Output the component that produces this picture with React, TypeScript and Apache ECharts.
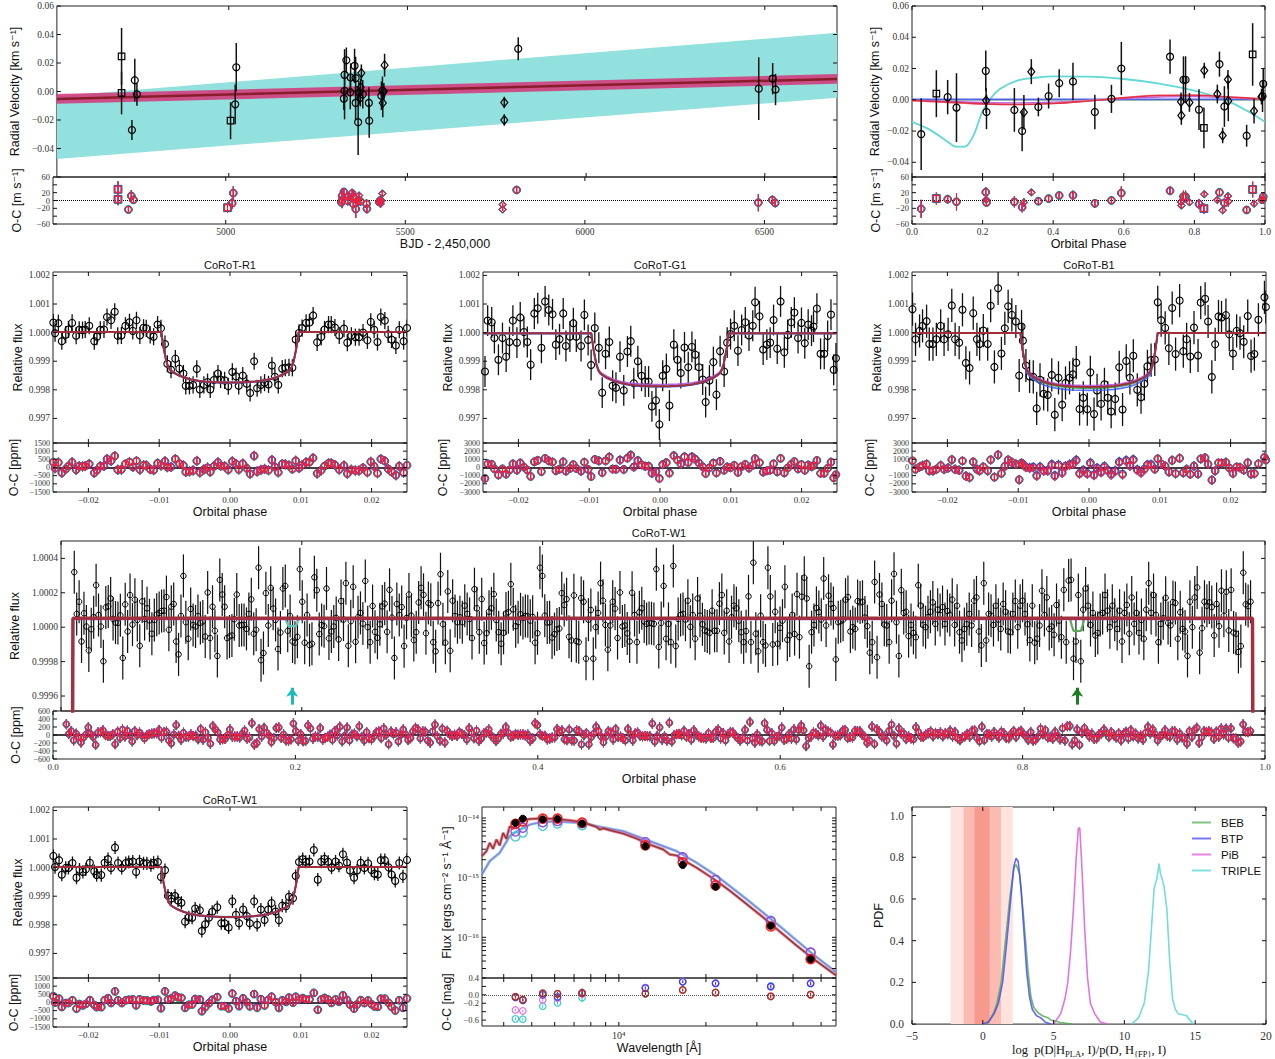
import React, { useEffect, useRef } from "react";
import * as echarts from "echarts";

const SERIF = "'Liberation Serif', 'DejaVu Serif', serif";
const SANS = "'Liberation Sans', 'DejaVu Sans', Arial, sans-serif";

// ---------------- RV versus time ----------------
const RV_T = [4700, 4700, 4737, 4743, 4729, 5005, 5018, 5021, 5329, 5324, 5324, 5322, 5341, 5340, 5352, 5355, 5355, 5362, 5371, 5369, 5364, 5368, 5375, 5392, 5393, 5436, 5434, 5430, 5427, 5431, 5771, 5771, 5810, 6483, 6522, 6530];
const RV_V = [0.0246, -0.001, 0.0079, -0.002, -0.027, -0.0205, -0.009, 0.017, 0.0219, 0.0117, 0.0005, -0.005, 0.0098, -0.0005, 0.018, 0.0094, -0.008, -0.0215, 0.013, 0.003, -0.0007, -0.0045, -0.002, -0.008, -0.0205, 0.0185, 0.0, 0.0005, -0.003, -0.008, -0.0077, -0.02, 0.03, 0.002, 0.009, 0.0014];
const RV_E = [0.02, 0.015, 0.015, 0.008, 0.007, 0.013, 0.014, 0.017, 0.009, 0.018, 0.02, 0.008, 0.01, 0.012, 0.012, 0.015, 0.012, 0.023, 0.006, 0.006, 0.008, 0.006, 0.01, 0.011, 0.012, 0.008, 0.006, 0.01, 0.01, 0.01, 0.004, 0.004, 0.008, 0.022, 0.011, 0.011];
const RV_SYM = ["s", "s", "c", "c", "c", "s", "c", "c", "c", "c", "c", "c", "c", "c", "c", "c", "c", "c", "d", "d", "d", "d", "c", "c", "c", "d", "d", "c", "c", "d", "d", "d", "c", "c", "c", "c"];
const DRIFT_T = [4519, 6702];
const DRIFT_V = [-0.0052, 0.0088];
const RED_BAND_LO = [-0.0086, 0.0054];
const RED_BAND_HI = [-0.0018, 0.0122];
const CYAN_BAND_LO = [-0.0473, -0.0044];
const CYAN_BAND_HI = [-0.0033, 0.0412];
const BJD_TICKS = [5000, 5500, 6000, 6500];
const RV_YT = [-0.06, -0.04, -0.02, 0, 0.02, 0.04, 0.06];
const RV_YL = [-0.04, -0.02, 0, 0.02, 0.04, 0.06];
const RVOC_T = [-60, -40, -20, 0, 20, 40, 60];

// ---------------- RV versus orbital phase ----------------
const PH_P = [0.026, 0.069, 0.101, 0.126, 0.209, 0.21, 0.211, 0.29, 0.312, 0.317, 0.338, 0.358, 0.387, 0.417, 0.456, 0.518, 0.565, 0.593, 0.731, 0.762, 0.763, 0.769, 0.775, 0.786, 0.813, 0.827, 0.828, 0.865, 0.871, 0.88, 0.885, 0.895, 0.896, 0.948, 0.965, 0.969, 0.99, 0.993, 0.995];
const PH_V = [-0.022, 0.0039, 0.0017, -0.005, 0.0185, -0.0004, -0.0078, -0.0065, -0.02, -0.008, 0.018, -0.0046, 0.0024, 0.0106, 0.0117, -0.0078, 0.0006, 0.02, 0.0276, -0.0013, -0.01, 0.0128, 0.0128, -0.0017, -0.0063, -0.018, 0.0187, 0.0037, 0.0228, -0.0228, -0.0043, 0.013, -0.0007, -0.023, 0.029, -0.0072, 0.002, 0.0022, 0.0102];
const PH_E = [0.023, 0.015, 0.011, 0.022, 0.013, 0.008, 0.011, 0.014, 0.013, 0.011, 0.008, 0.006, 0.008, 0.009, 0.012, 0.011, 0.009, 0.017, 0.011, 0.006, 0.006, 0.015, 0.015, 0.006, 0.013, 0.013, 0.005, 0.006, 0.008, 0.005, 0.013, 0.006, 0.013, 0.007, 0.02, 0.008, 0.005, 0.01, 0.01];
const PH_SYM = ["c", "s", "c", "c", "c", "d", "c", "c", "c", "d", "d", "c", "c", "c", "c", "c", "c", "c", "c", "d", "d", "c", "c", "d", "c", "s", "d", "d", "c", "d", "c", "d", "d", "c", "s", "d", "d", "c", "c"];
const PH_CYAN_X = [0, 0.05, 0.1, 0.125, 0.15, 0.175, 0.2, 0.225, 0.25, 0.3, 0.35, 0.4, 0.5, 0.6, 0.7, 0.8, 0.85, 0.9, 0.95, 1.0];
const PH_CYAN_Y = [-0.0141, -0.0191, -0.0267, -0.03, -0.03, -0.0224, -0.0072, 0.0015, 0.007, 0.0124, 0.0141, 0.015, 0.0148, 0.0133, 0.0104, 0.0059, 0.0026, -0.0013, -0.0072, -0.0141];
const PH_MOD_X = [0, 0.1, 0.2, 0.3, 0.4, 0.5, 0.6, 0.7, 0.8, 0.9, 1.0];
const PH_RED = [-0.0004, -0.0015, -0.0026, -0.003, -0.0024, -0.0008, 0.0012, 0.0027, 0.0029, 0.0018, 0.0004];
const PH_PINK = [-0.0006, -0.0018, -0.0028, -0.0031, -0.0022, -0.0005, 0.0015, 0.003, 0.003, 0.0017, 0.0001];
const PH_MAGENTA = [-0.0003, -0.001, -0.0017, -0.002, -0.0016, -0.0006, 0.0008, 0.0018, 0.002, 0.0013, 0.0003];
const PH_FLAT_X = [0, 1];
const PH_BLUE = [0.0004, 0.0004];
const PH_SLATE = [0.0, 0.0];
const PH_XT = [0, 0.2, 0.4, 0.6, 0.8, 1.0];
const PH_YT = [-0.04, -0.02, 0, 0.02, 0.04, 0.06];

// ---------------- Light curves (phase in 1e-5, flux in ppm) ----------------
const R1_X = [-2495, -2471, -2424, -2376, -2320, -2282, -2230, -2173, -2130, -2083, -2045, -1988, -1917, -1879, -1832, -1780, -1737, -1680, -1628, -1586, -1534, -1477, -1420, -1373, -1321, -1273, -1221, -1183, -1127, -1079, -1023, -975, -918, -885, -833, -772, -715, -658, -625, -573, -521, -469, -426, -369, -317, -279, -227, -170, -133, -76, -24, 33, 85, 123, 180, 237, 284, 341, 383, 436, 488, 544, 592, 634, 682, 738, 781, 833, 881, 928, 975, 1018, 1075, 1122, 1174, 1231, 1288, 1335, 1392, 1430, 1482, 1543, 1610, 1657, 1714, 1771, 1823, 1879, 1941, 1988, 2036, 2083, 2130, 2187, 2234, 2282, 2343, 2391, 2452, 2500];
const R1_PPM = [350, -20, 330, -300, -70, 110, 340, -110, 100, 90, 110, 240, -300, -140, 100, 110, 545, 430, 730, -110, -100, 240, 360, 60, 430, -100, 170, 150, -80, -140, 280, 150, -400, -1090, -1300, -910, -1260, -1430, -1860, -1860, -1830, -1270, -1990, -1830, -1730, -1990, -1660, -1430, -1640, -1670, -1875, -1375, -1530, -1860, -1500, -1785, -2110, -1000, -1945, -1830, -1750, -1810, -1150, -1545, -1830, -1260, -1230, -1215, -1230, -240, -10, 160, 340, 350, 600, -340, -150, 110, 280, 280, 180, -100, 140, -350, -110, -160, -160, 0, -270, 375, 100, -330, 545, 420, -60, -240, -450, 100, -300, 160];
const G1_X = [-2472, -2434, -2377, -2339, -2282, -2225, -2173, -2126, -2078, -2021, -1974, -1922, -1874, -1827, -1775, -1727, -1675, -1623, -1571, -1518, -1471, -1419, -1367, -1329, -1272, -1224, -1182, -1115, -1068, -1015, -973, -921, -864, -816, -769, -716, -669, -622, -565, -512, -460, -413, -370, -313, -261, -209, -161, -114, -57, -9, 38, 90, 133, 195, 247, 294, 346, 399, 451, 498, 550, 603, 645, 698, 754, 797, 849, 906, 949, 996, 1049, 1101, 1153, 1205, 1257, 1310, 1343, 1405, 1457, 1509, 1556, 1604, 1656, 1703, 1756, 1803, 1855, 1898, 1950, 1998, 2045, 2093, 2140, 2168, 2216, 2268, 2320, 2368, 2415, 2453, 2485];
const G1_PPM = [-1360, 420, 360, -190, -950, -190, -840, -330, 420, -350, 530, 20, -330, -1120, 670, 850, -530, 1090, 790, 640, -420, -230, 670, -470, -140, 330, -140, -470, 620, -260, -1130, 160, -530, -2100, -740, -330, -1860, -1930, -840, -2020, -660, -300, -1770, -1000, -1510, -1710, -1710, -2580, -2370, -3210, -1510, -1270, -2550, -420, -950, -1410, -520, -1210, -500, -770, -1210, -1640, -2430, -1670, -1030, -2170, -650, -1360, -350, -50, 240, -630, 90, 360, -100, 240, 1060, 570, -590, -420, -350, 440, -560, 1090, -690, -80, 360, 700, -190, 340, -370, 280, 70, 210, 840, -740, -740, -120, 630, -1300, -900];
const B1_X = [-2493, -2450, -2393, -2351, -2294, -2256, -2204, -2156, -2095, -2047, -1990, -1938, -1891, -1834, -1787, -1739, -1687, -1635, -1583, -1545, -1493, -1431, -1389, -1336, -1284, -1237, -1189, -1142, -1090, -1033, -986, -953, -934, -891, -839, -787, -739, -692, -640, -583, -526, -483, -431, -379, -332, -275, -227, -180, -133, -81, -24, 19, 71, 114, 171, 218, 265, 313, 370, 427, 474, 526, 578, 626, 682, 735, 782, 825, 877, 929, 971, 1019, 1076, 1128, 1175, 1223, 1280, 1332, 1379, 1431, 1483, 1540, 1578, 1640, 1682, 1735, 1782, 1829, 1872, 1934, 1981, 2033, 2085, 2133, 2185, 2242, 2289, 2336, 2393, 2478, 2498];
const B1_PPM = [820, -235, 60, 235, 400, -400, -400, -235, 235, -235, -60, 950, -235, -350, 800, -1060, -1235, 680, -235, -400, 70, -400, 940, -1200, 1550, -730, 150, 920, 620, 390, -1500, 210, -280, -1150, -1530, -1550, -2650, -1650, -2140, -2180, -1480, -2870, -1580, -2520, -1760, -1580, -1460, -1050, -2670, -2280, -2680, -1390, -2850, -2020, -2490, -1810, -2280, -2760, -2320, -1210, -2690, -990, -1580, -810, -2000, -2260, -1790, -1180, -960, -940, 1060, 435, 165, -550, 860, -750, 1120, -650, -235, -835, 175, -800, 1050, 1180, 390, -1550, -410, 565, 530, 610, -60, -730, 60, -20, -320, 580, -820, -750, 450, 1235, 895];
const W1S_X = [-2495, -2471, -2414, -2376, -2320, -2282, -2225, -2168, -2126, -2078, -2036, -1979, -1917, -1884, -1818, -1771, -1723, -1681, -1624, -1581, -1529, -1472, -1430, -1373, -1326, -1278, -1221, -1174, -1117, -1079, -1018, -975, -918, -876, -828, -776, -734, -686, -634, -582, -535, -492, -426, -398, -350, -298, -251, -180, -123, -76, -19, 33, 85, 128, 185, 237, 279, 341, 383, 436, 488, 540, 587, 644, 691, 738, 791, 833, 890, 928, 975, 1027, 1070, 1122, 1184, 1240, 1288, 1335, 1387, 1434, 1491, 1539, 1595, 1652, 1695, 1752, 1794, 1846, 1898, 1950, 1998, 2040, 2088, 2130, 2187, 2239, 2282, 2334, 2391, 2443, 2500];
const W1S_PPM = [410, 20, 260, -250, -10, -10, 160, -350, -70, -150, -60, 170, -125, -260, -260, 170, 295, -10, 705, 160, -10, 160, 195, 215, -150, 215, 150, 150, 90, 170, 195, -330, -90, -980, -1080, -990, -1150, -1230, -1890, -1740, -1750, -1430, -1490, -2215, -1980, -1750, -1545, -1385, -1945, -1945, -2090, -1180, -1650, -1945, -1465, -1695, -1945, -1180, -2000, -1465, -1830, -1465, -1240, -1535, -1840, -1330, -1350, -1020, -1070, -295, 195, 295, 205, 215, 615, -420, 205, 305, 205, 0, 215, 70, 465, 180, -100, -350, -100, 170, -10, 150, -80, -215, -240, 260, 260, 10, -240, -465, 160, -305, 270];
const R1_ERR = 300, G1_ERR = 540, B1_ERR = 580, W1S_ERR = 230;

// transit profile (fraction of depth versus |phase|)
const TR_X = [0, 0.0012, 0.0025, 0.0035, 0.0045, 0.0055, 0.0065, 0.0075, 0.008, 0.0084, 0.0087, 0.009, 0.0094, 0.0097, 0.025];
const TR_S = [1, 0.998, 0.992, 0.982, 0.965, 0.94, 0.9, 0.84, 0.8, 0.76, 0.7, 0.58, 0.3, 0, 0];
// models: TRIPLE, BEB, BTP, PiB, PLA (ppm)
const MODEL_LINE = ["#48d1cc", "#2e9e3e", "#3f5bff", "#b44fe0", "#a12d3d"];
const MODEL_OC = ["#22c4c4", "#178a17", "#1c3cff", "#c23cc2", "#ff1a1a"];
const OC_SIZE = [8, 7.4, 6.9, 6.4, 5.9];
const R1_BASE = [25, 25, 25, 25, 25];
const R1_DEPTH = [1755, 1770, 1785, 1760, 1770];
const G1_BASE = [-25, -25, -25, -25, -25];
const G1_DEPTH = [1830, 1860, 1870, 1790, 1850];
const B1_BASE = [-10, -5, -10, -10, -10];
const B1_DEPTH = [1900, 1940, 2010, 1840, 1890];
const W1S_BASE = [25, 25, 25, 25, 25];
const W1S_DEPTH = [1740, 1755, 1765, 1745, 1752];
const LC_XT = [-0.02, -0.01, 0, 0.01, 0.02];
const LC_YT = [0.997, 0.998, 0.999, 1.0, 1.001, 1.002];
const OC_T1500 = [-1500, -1000, -500, 0, 500, 1000, 1500];
const OC_T3000 = [-3000, -2000, -1000, 0, 1000, 2000, 3000];

// ---------------- CoRoT-W1 full phase (ppm) ----------------
const W1_PH0 = 0.011, W1_PH1 = 0.988;
const W1_PPM_A = [320, 77, 148, -83, 81, 4, -135, -12, 58, 244, 71, 4, -198, 115, 121, 167, 48, 27, 25, 69, -179, 133, -25, 187, 15, 160, 42, -108, 150, 48, 110, 40, -38, 42, 73, 83, 94, 96, 175, -15, 119, 135, -83, -158, 65, 298, 29, -67, 106, 13, 4, 65, 25, 33, -54, 202, -63, 119, -21, -167, 275, 190, 119, -63, -54, -48, 46, 190, 10, 13, 13, -10, 77, 162, -38, -15, 346, -192, -150, 198, 10, 229, 108, 42, -127, -31, 225, 240, -21, 65, -83, -90, -56, 337, 148, -90, 71, -104, -96, 290, 215, -40, 13, 6, 225, -65, -25, 4, 54, -71, 152, 44, 256, -108, 35, 235, -85, 58, 83, 21, 269, 0, -87, 123, -27, -62, 17, 121, 137, -27, 217, 56, -179, 135, 71, 117, -110, 54, 190, 67, -75, -29, 144, 229, 188, -35, 140, 131, -87, -140, 140, 308, 17, -90, 208, -137, 154, 65, 29, 58, 29, 125, 77, 48, -63, 221, 110, -29, 163, -92, -35, 90, 110, 192, 42, -29, -96, -33, 79, 87, 250, 104, 6, 29, 75, 54, 65, 63, 38, 60, -90, -35, 346, 298, 67, 27, 29, -60, -40, -13, -8, 198, 129, 163, -56, -77, 185, -81, -87, 169, 148, -183, 44, 100, -183, 0, 83, 256, 154, 13, -131, 10, 148, 108, -63, 202, 4, 10, -36, -83, 200, 71, -87, 87];
const W1_PPM_B = [110, 33, 19, 25, 23, 19, 337, -115, 25, 240, -67, 19, -87, 356, -110, 48, 71, 77, 44, 154, 2, 71, -67, 167, 67, 17, -19, -25, -33, 96, -21, -21, 137, 187, -33, 96, -83, 58, 125, 110, 38, -29, -87, -23, 179, -87, 375, -38, -140, 67, -87, -106, 346, 179, -100, 90, -96, -4, 38, 235, -73, -48, 71, -40, 192, -58, 177, 288, 167, -227, -29, 13, 112, 88, 44, 283, 10, 183, 135, 112, -187, 29, 35, 44, 160, 175, -25, 0, -10, 152, 144, 148, 56, 6, -148, -87, 263, -175, 190, 135, 15, 10, -87, 154, 310, 29, -167, 215, 83, 90, -52, 13, -33, -58, 244, 125, 13, 0, 58, 90, 144, 19, 102, 71, 117, 19, 94, 71, 160, 13, 125, -29, -77, -10, 17, 77, 10, 154, 173, -25, -106, 256, -77, 77, 67, 13, 125, 44, -10, 135, 90, -25, -29, 77, 152, 0, 125, 154, 77, 17, -75, 125, -90, -67, 10, 212, 71, 173, -10, 4, -44, 129, 38, -58, 217, -87, 271, 275, -183, -83, 187, -198, 102, 225, 125, 13, 83, -48, -33, 71, 83, 187, 96, 0, 125, 44, -10, 96, -83, 83, 129, -38, 173, 19, 83, -33, 42, -67, 102, 256, 83, 187, 71, -87, 19, 52, 171, 25, 10, 146, 140, -67, 87, -10, -25, -167, 148, 0, 173, 231, -148, -6, 148, 125, 144, 117, -48, 135, 6, 212, 67, 206, -19, 217, -31, -38, -144, -110, 317, 133, 123, 148];
const W1_ERR = 125;
const W1_PLA_X = [0.009, 0.0099, 0.9896, 0.9905];
const W1_PLA_Y = [-1800, 52, 52, -1800];
const W1_CYAN_X = [0.0099, 0.186, 0.1875, 0.189, 0.195, 0.1965, 0.198, 0.9896];
const W1_CYAN_Y = [52, 52, 28, 6, 6, 28, 52, 52];
const W1_GREEN_X = [0.0099, 0.838, 0.8395, 0.841, 0.847, 0.8485, 0.85, 0.9896];
const W1_GREEN_Y = [52, 52, 10, -22, -22, 10, 52, 52];
const W1_FLAT_X = [0.0099, 0.9896];
const W1_PURPLE_Y = [46, 46];
const W1_BLUE_Y = [49, 49];
const W1_ARROW_PH = [0.192, 0.844];
const W1_ARROW_COL = ["#18bcbc", "#1b7d1b"];
const W1_ARROW_Y = [0.99955, 0.999648];
const W1_XT = [0, 0.2, 0.4, 0.6, 0.8, 1.0];
const W1_YT = [0.9996, 0.9998, 1.0, 1.0002, 1.0004];
const W1_OCT = [-600, -400, -200, 0, 200, 400, 600];

// ---------------- SED ----------------
const SED_WL = [4391, 4656, 5457, 6137, 7465, 12350, 16620, 21590, 33500, 46000];
const SED_FLUX = [8.26e-15, 9.74e-15, 9.5e-15, 9.62e-15, 8.05e-15, 3.37e-15, 1.63e-15, 7.08e-16, 1.56e-16, 4.3e-17];
const SED_OC_ERR = [0.03, 0.03, 0.04, 0.04, 0.1, 0.03, 0.03, 0.03, 0.04, 0.04];
const SED_OC_BROWN = [-0.05, -0.12, 0.04, 0.03, 0.05, 0.03, 0.12, 0.06, -0.04, 0.01];
const SED_OC_RED = [-0.04, -0.11, 0.03, 0.02, 0.04, 0.03, 0.11, 0.05, -0.03, 0.0];
const SED_OC_MAG = [-0.36, -0.38, -0.12, -0.08, 0.02, 0.17, 0.32, 0.28, 0.19, 0.28];
const SED_OC_CYAN = [-0.57, -0.58, -0.27, -0.19, -0.07, 0.17, 0.31, 0.28, 0.21, 0.27];
const SED_OC_BLUE = [-0.06, -0.13, 0.0, -0.05, 0.04, 0.16, 0.31, 0.27, 0.2, 0.27];
const SED_PLA_WL = [3365, 3485, 3580, 3675, 3775, 3875, 3980, 4085, 4195, 4305, 4445, 4665, 4920, 5472, 6085, 6768, 7530, 8372, 8594, 8828, 9308, 10351, 11511, 12801, 14235, 15011, 15830, 16693, 18563, 20105, 21775, 24215, 27655, 31580, 36065, 41185, 47030, 56300];
const SED_PLA_F = [2.3e-15, 2.78e-15, 3.83e-15, 3.04e-15, 4.35e-15, 3.46e-15, 5.62e-15, 4.47e-15, 7.26e-15, 6.56e-15, 8.26e-15, 9.14e-15, 9.62e-15, 9.87e-15, 9.62e-15, 9.14e-15, 8.47e-15, 7.08e-15, 6.39e-15, 6.73e-15, 6.23e-15, 5.48e-15, 4.53e-15, 3.59e-15, 2.97e-15, 2.45e-15, 2.36e-15, 1.97e-15, 1.47e-15, 1.14e-15, 8.8e-16, 6.0e-16, 3.6e-16, 2.15e-16, 1.24e-16, 7.26e-17, 4.35e-17, 2.3e-17];
const SED_HOT_WL = [3365, 3580, 3875, 4195, 4445, 4920, 5472, 6085, 6768, 7530, 8372, 10351, 12801, 15830, 18563, 21775, 27655, 36065, 47030, 56300];
const SED_HOT_F = [1.14e-15, 1.9e-15, 2.61e-15, 4.95e-15, 6.0e-15, 7.74e-15, 8.69e-15, 8.8e-15, 8.47e-15, 8.26e-15, 7.26e-15, 6.0e-15, 4.08e-15, 2.78e-15, 1.78e-15, 1.07e-15, 4.35e-16, 1.52e-16, 5.14e-17, 2.61e-17];
const SED_XT = [4000, 5000, 6000, 7000, 8000, 9000, 10000, 20000, 30000, 40000, 50000];
const SED_XL = [10000];
const SED_YT = [3e-17, 4e-17, 5e-17, 6e-17, 7e-17, 8e-17, 9e-17, 1e-16, 2e-16, 3e-16, 4e-16, 5e-16, 6e-16, 7e-16, 8e-16, 9e-16, 1e-15, 2e-15, 3e-15, 4e-15, 5e-15, 6e-15, 7e-15, 8e-15, 9e-15, 1e-14];
const SED_YL = [1e-16, 1e-15, 1e-14];
const SED_OCT = [-0.6, -0.4, -0.2, 0, 0.2, 0.4];

// ---------------- PDF ----------------
const BEB_X = [0.3, 0.5, 0.8, 1.0, 1.3, 1.6, 1.9, 2.2, 2.35, 2.6, 2.9, 3.2, 3.4, 3.6, 3.9, 4.2, 4.6, 4.8, 5.1, 5.5, 6.0, 6.3];
const BEB_Y = [0, 0.02, 0.06, 0.1, 0.2, 0.4, 0.6, 0.75, 0.765, 0.72, 0.5, 0.25, 0.13, 0.08, 0.055, 0.04, 0.03, 0.02, 0.015, 0.008, 0.003, 0];
const BTP_X = [0.0, 0.4, 0.8, 1.1, 1.4, 1.7, 2.0, 2.2, 2.35, 2.5, 2.7, 2.9, 3.1, 3.3, 3.5, 3.8, 4.1, 4.4, 4.8];
const BTP_Y = [0, 0.01, 0.05, 0.1, 0.2, 0.4, 0.62, 0.76, 0.795, 0.78, 0.65, 0.45, 0.25, 0.13, 0.07, 0.04, 0.03, 0.01, 0];
const PIB_X = [5.0, 5.5, 5.8, 6.0, 6.2, 6.4, 6.6, 6.75, 6.85, 7.0, 7.2, 7.4, 7.6, 7.9, 8.3, 8.8];
const PIB_Y = [0, 0.05, 0.12, 0.2, 0.35, 0.55, 0.8, 0.94, 0.94, 0.75, 0.45, 0.22, 0.1, 0.05, 0.01, 0];
const TRI_X = [10.5, 11.0, 11.4, 11.7, 11.9, 12.1, 12.3, 12.45, 12.55, 12.65, 12.8, 13.0, 13.2, 13.4, 13.6, 13.8, 14.1, 14.4, 14.6, 14.9];
const TRI_Y = [0, 0.03, 0.1, 0.25, 0.45, 0.65, 0.7, 0.77, 0.72, 0.7, 0.66, 0.55, 0.3, 0.12, 0.07, 0.05, 0.045, 0.04, 0.02, 0];
const PDF_BANDS = [[-2.26, 2.12], [-1.35, 1.28], [-0.58, 0.47]];
const PDF_BAND_COL = ["#fee2de", "#fbbbb0", "#f7998c"];
const PDF_XT = [-5, 0, 5, 10, 15, 20];
const PDF_YT = [0, 0.2, 0.4, 0.6, 0.8, 1.0];

// ---------------- helpers ----------------
const MINUS = "\u2212";
const fixed = (d: number) => (v: number) => v.toFixed(d).replace("-", MINUS);
const intf = (v: number) => String(Math.round(v)).replace("-", MINUS);
const SUP: Record<string, string> = { "-": "\u207B", "0": "\u2070", "1": "\u00B9", "2": "\u00B2", "3": "\u00B3", "4": "\u2074", "5": "\u2075", "6": "\u2076", "7": "\u2077", "8": "\u2078", "9": "\u2079" };
const pow10 = (v: number) => "10" + String(Math.round(Math.log10(v))).split("").map((c) => SUP[c] || c).join("");

function interp(xs: number[], ys: number[], x: number): number {
  if (x <= xs[0]) return ys[0];
  for (let i = 0; i < xs.length - 1; i++) {
    if (x <= xs[i + 1]) {
      const t = (x - xs[i]) / (xs[i + 1] - xs[i]);
      return ys[i] + t * (ys[i + 1] - ys[i]);
    }
  }
  return ys[ys.length - 1];
}
const zip = (xs: number[], ys: number[]) => xs.map((x, i) => [x, ys[i]]);
const SYM_NAME: Record<string, string> = { c: "circle", s: "rect", d: "diamond" };
const SYM_SIZE: Record<string, any> = { c: 7, s: 6.5, d: [7, 9] };

function buildOption() {
  const grid: any[] = [];
  const xAxis: any[] = [];
  const yAxis: any[] = [];
  const series: any[] = [];
  const graphic: any[] = [];

  const mkAxis = (gi: number, s: any, pos: string) => {
    const o: any = {
      type: s.type || "value",
      gridIndex: gi,
      position: pos,
      min: s.min,
      max: s.max,
      axisLine: { show: false, onZero: false },
      splitLine: { show: false },
      axisTick: { show: false },
      axisLabel: { show: false },
      silent: true,
      z: 10,
    };
    if (s.type === "log") o.logBase = 10;
    if (s.labels) {
      o.axisLabel = {
        show: true,
        customValues: s.labels,
        formatter: s.fmt,
        fontFamily: SERIF,
        fontSize: s.fs || 9.5,
        color: "#333",
        margin: s.margin ?? 3,
        hideOverlap: false,
        showMinLabel: true,
        showMaxLabel: true,
      };
    }
    if (s.name) {
      o.name = s.name;
      o.nameLocation = "middle";
      o.nameGap = s.gap;
      o.nameTextStyle = { fontFamily: SANS, fontSize: 12.5, color: "#111", ...(s.nameStyle || {}) };
    }
    return o;
  };
  // inward ticks on all four edges, positioned through the axis scales (api.coord)
  const frameTicks = (ax: any, xs: any, ys: any, g: number[]) => ({
    type: "custom", xAxisIndex: ax.xi, yAxisIndex: ax.yi, data: [[xs.min, ys.min]], silent: true, z: 20, clip: false,
    renderItem: (_params: any, api: any) => {
      const children: any[] = [];
      const st = { stroke: "#111", lineWidth: 1 };
      const L = 4;
      const x0 = api.coord([xs.min, ys.min])[0];
      const x1 = api.coord([xs.max, ys.min])[0];
      const yb = api.coord([xs.min, ys.min])[1];
      const yt = api.coord([xs.min, ys.max])[1];
      xs.ticks.forEach((v: number) => {
        const px = api.coord([v, ys.min])[0];
        children.push({ type: "line", shape: { x1: px, y1: yt, x2: px, y2: yt + L }, style: st });
        children.push({ type: "line", shape: { x1: px, y1: yb, x2: px, y2: yb - L }, style: st });
      });
      ys.ticks.forEach((v: number) => {
        const py = api.coord([xs.min, v])[1];
        children.push({ type: "line", shape: { x1: x0, y1: py, x2: x0 + L, y2: py }, style: st });
        children.push({ type: "line", shape: { x1: x1 - L, y1: py, x2: x1, y2: py }, style: st });
      });
      return { type: "group", children };
    },
  });
  const panel = (g: number[], xs: any, ys: any) => {
    const gi = grid.length;
    grid.push({ left: g[0], top: g[1], width: g[2], height: g[3], show: true, borderColor: "#222", borderWidth: 1, backgroundColor: "rgba(0,0,0,0)" });
    xAxis.push(mkAxis(gi, xs, "bottom"));
    yAxis.push(mkAxis(gi, ys, "left"));
    const ax = { xi: gi, yi: gi };
    series.push(frameTicks(ax, xs, ys, g));
    return ax;
  };
  const scatter = (ax: any, data: any[], symbol: string, size: any, stroke: string, z: number, fill = "rgba(0,0,0,0)", lw = 1) => ({
    type: "scatter", xAxisIndex: ax.xi, yAxisIndex: ax.yi, data, symbol, symbolSize: size, silent: true, z, clip: true,
    itemStyle: { color: fill, borderColor: stroke, borderWidth: lw, opacity: 1 },
  });
  const errbars = (ax: any, data: number[][], color: string, lw: number, z: number) => ({
    type: "custom", xAxisIndex: ax.xi, yAxisIndex: ax.yi, data, silent: true, z, clip: true,
    renderItem: (_p: any, api: any) => {
      const a = api.coord([api.value(0), api.value(1)]);
      const b = api.coord([api.value(0), api.value(2)]);
      return { type: "line", shape: { x1: a[0], y1: a[1], x2: b[0], y2: b[1] }, style: { stroke: color, lineWidth: lw } };
    },
  });
  const line = (ax: any, data: any[], color: string, width: number, z: number, extra: any = {}) => ({
    type: "line", xAxisIndex: ax.xi, yAxisIndex: ax.yi, data, symbol: "none", showSymbol: false, silent: true, z, clip: true,
    lineStyle: { color, width, ...(extra.ls || {}) }, ...(extra.s || {}),
  });
  const band = (ax: any, xs: number[], lo: number[], hi: number[], fill: string, z: number) => ({
    type: "custom", xAxisIndex: ax.xi, yAxisIndex: ax.yi, data: [[xs[0], lo[0]]], silent: true, z, clip: true,
    renderItem: (_p: any, api: any) => {
      const pts = xs.map((x, i) => api.coord([x, lo[i]])).concat(xs.map((x, i) => api.coord([x, hi[i]])).reverse());
      return { type: "polygon", shape: { points: pts }, style: { fill } };
    },
  });
  const zeroLine = (color: string, type: string, width: number) => ({
    silent: true, symbol: ["none", "none"], label: { show: false }, animation: false,
    lineStyle: { color, type, width }, data: [{ yAxis: 0 }],
  });
  const title = (text: string, x: number, y: number) =>
    graphic.push({ type: "text", x, y, silent: true, style: { text, fontFamily: SANS, fontSize: 11, fill: "#111", align: "center", verticalAlign: "middle" } });

  // ======== RV vs time ========
  const aRV = panel([53, 6, 784, 171],
    { min: 4519, max: 6702, ticks: BJD_TICKS },
    { min: -0.06, max: 0.06, ticks: RV_YT, labels: RV_YL, fmt: fixed(2), name: "Radial Velocity [km s\u207B\u00B9]", gap: 31 });
  series.push(band(aRV, DRIFT_T, CYAN_BAND_LO, CYAN_BAND_HI, "#92e1de", 1));
  series.push(band(aRV, DRIFT_T, RED_BAND_LO, RED_BAND_HI, "rgba(214,52,120,0.85)", 2));
  series.push(line(aRV, zip(DRIFT_T, DRIFT_V), "#8b1c2c", 2.5, 3));
  series.push(errbars(aRV, RV_T.map((t, i) => [t, RV_V[i] - RV_E[i], RV_V[i] + RV_E[i]]), "#111", 1.5, 4));
  series.push(scatter(aRV, RV_T.map((t, i) => ({ value: [t, RV_V[i]], symbol: SYM_NAME[RV_SYM[i]], symbolSize: SYM_SIZE[RV_SYM[i]] })), "circle", 7, "#000", 5, "rgba(0,0,0,0)", 1.2));

  const aRVoc = panel([53, 177, 784, 47],
    { min: 4519, max: 6702, ticks: BJD_TICKS, labels: BJD_TICKS, fmt: (v: number) => String(v), name: "BJD - 2,450,000", gap: 12 },
    { min: -60, max: 60, ticks: RVOC_T, labels: RVOC_T, fmt: intf, name: "O-C [m s\u207B\u00B9]", gap: 30, fs: 8.5 });
  const rvRes = RV_T.map((t, i) => 1000 * (RV_V[i] - interp(DRIFT_T, DRIFT_V, t)));
  MODEL_OC.forEach((c, m) => {
    series.push(errbars(aRVoc, RV_T.map((t, i) => [t, rvRes[i] - 1000 * RV_E[i], rvRes[i] + 1000 * RV_E[i]]), c, 1, 2 + m));
    const sc: any = scatter(aRVoc, RV_T.map((t, i) => ({ value: [t, rvRes[i]], symbol: SYM_NAME[RV_SYM[i]], symbolSize: OC_SIZE[m] })), "circle", OC_SIZE[m], c, 3 + m);
    if (m === 4) sc.markLine = zeroLine("#000", "dotted", 1);
    series.push(sc);
  });

  // ======== RV vs phase ========
  const aPH = panel([912, 6, 353, 171],
    { min: 0, max: 1, ticks: PH_XT },
    { min: -0.0494, max: 0.06, ticks: PH_YT, labels: PH_YT, fmt: fixed(2), name: "Radial Velocity [km s\u207B\u00B9]", gap: 31 });
  series.push(line(aPH, zip(PH_CYAN_X, PH_CYAN_Y), "#5fd8d6", 1.8, 2, { s: { smooth: 0.3 } }));
  series.push(line(aPH, zip(PH_FLAT_X, PH_SLATE), "#3b6f78", 1.6, 3));
  series.push(line(aPH, zip(PH_FLAT_X, PH_BLUE), "#5560ff", 1.4, 3));
  series.push(line(aPH, zip(PH_MOD_X, PH_MAGENTA), "#c060e0", 1.4, 3, { s: { smooth: 0.4 } }));
  series.push(line(aPH, zip(PH_MOD_X, PH_PINK), "#ff9a9a", 1.4, 3, { s: { smooth: 0.4 } }));
  series.push(line(aPH, zip(PH_MOD_X, PH_RED), "#e0304a", 1.6, 4, { s: { smooth: 0.4 } }));
  series.push(errbars(aPH, PH_P.map((p, i) => [p, PH_V[i] - PH_E[i], PH_V[i] + PH_E[i]]), "#111", 1.5, 5));
  series.push(scatter(aPH, PH_P.map((p, i) => ({ value: [p, PH_V[i]], symbol: SYM_NAME[PH_SYM[i]], symbolSize: SYM_SIZE[PH_SYM[i]] })), "circle", 7, "#000", 6, "rgba(0,0,0,0)", 1.2));

  const aPHoc = panel([912, 177, 353, 47],
    { min: 0, max: 1, ticks: PH_XT, labels: PH_XT, fmt: fixed(1), name: "Orbital Phase", gap: 12 },
    { min: -60, max: 60, ticks: RVOC_T, labels: RVOC_T, fmt: intf, name: "O-C [m s\u207B\u00B9]", gap: 30, fs: 8.5 });
  const phRes = PH_P.map((p, i) => 1000 * (PH_V[i] - interp(PH_MOD_X, PH_RED, p)));
  MODEL_OC.forEach((c, m) => {
    series.push(errbars(aPHoc, PH_P.map((p, i) => [p, phRes[i] - 1000 * PH_E[i], phRes[i] + 1000 * PH_E[i]]), c, 1, 2 + m));
    const sc: any = scatter(aPHoc, PH_P.map((p, i) => ({ value: [p, phRes[i]], symbol: SYM_NAME[PH_SYM[i]], symbolSize: OC_SIZE[m] })), "circle", OC_SIZE[m], c, 3 + m);
    if (m === 4) sc.markLine = zeroLine("#000", "dotted", 1);
    series.push(sc);
  });

  // ======== light-curve panels ========
  const shapeAt = (x: number) => interp(TR_X, TR_S, Math.abs(x));
  const modelX = TR_X.slice().reverse().map((v) => -v).concat(TR_X.slice(1));
  const lcPanel = (gm: number[], go: number[], X: number[], PPM: number[], ERR: number, BASE: number[], DEPTH: number[], ocMax: number, ocT: number[], yGap: number, ocGap: number) => {
    const n = Math.min(X.length, PPM.length);
    const xs = X.slice(0, n).map((v) => v * 1e-5);
    const ys = PPM.slice(0, n).map((v) => 1 + v * 1e-6);
    const am = panel(gm, { min: -0.025, max: 0.025, ticks: LC_XT },
      { min: 0.99614, max: 1.00212, ticks: LC_YT, labels: LC_YT, fmt: fixed(3), name: "Relative flux", gap: yGap });
    series.push(errbars(am, xs.map((x, i) => [x, ys[i] - ERR * 1e-6, ys[i] + ERR * 1e-6]), "#111", 1.3, 2));
    series.push(scatter(am, xs.map((x, i) => [x, ys[i]]), "circle", 7, "#000", 3, "rgba(0,0,0,0)", 1.1));
    MODEL_LINE.forEach((c, m) => {
      series.push(line(am, modelX.map((x) => [x, 1 + (BASE[m] - DEPTH[m] * shapeAt(x)) * 1e-6]), c, m === 4 ? 2 : 1.6, 4 + m, { ls: { opacity: m === 4 ? 1 : 0.85 } }));
    });
    const ao = panel(go, { min: -0.025, max: 0.025, ticks: LC_XT, labels: LC_XT, fmt: fixed(2), name: "Orbital phase", gap: 13, fs: 9 },
      { min: -ocMax, max: ocMax, ticks: ocT, labels: ocT, fmt: intf, name: "O-C [ppm]", gap: ocGap, fs: 8 });
    MODEL_OC.forEach((c, m) => {
      const r = xs.map((x, i) => PPM[i] - (BASE[m] - DEPTH[m] * shapeAt(x)));
      series.push(errbars(ao, xs.map((x, i) => [x, r[i] - ERR, r[i] + ERR]), c, 1, 2 + m));
      const sc: any = scatter(ao, xs.map((x, i) => [x, r[i]]), "circle", OC_SIZE[m], c, 3 + m);
      if (m === 4) sc.markLine = zeroLine("#000", "solid", 1.5);
      series.push(sc);
    });
  };
  lcPanel([53, 272, 354, 171], [53, 443, 354, 49], R1_X, R1_PPM, R1_ERR, R1_BASE, R1_DEPTH, 1500, OC_T1500, 27, 33);
  lcPanel([483, 272, 354, 171], [483, 443, 354, 49], G1_X, G1_PPM, G1_ERR, G1_BASE, G1_DEPTH, 3000, OC_T3000, 27, 34);
  lcPanel([912, 272, 354, 171], [912, 443, 354, 49], B1_X, B1_PPM, B1_ERR, B1_BASE, B1_DEPTH, 3000, OC_T3000, 26, 36);
  title("CoRoT-R1", 230, 265);
  title("CoRoT-G1", 660, 265);
  title("CoRoT-B1", 1089, 265);

  // ======== CoRoT-W1 full orbit ========
  const w1 = W1_PPM_A.concat(W1_PPM_B);
  const w1x = w1.map((_, i) => W1_PH0 + (i * (W1_PH1 - W1_PH0)) / (w1.length - 1));
  const aW = panel([53, 541, 1212, 170], { min: 0, max: 1, ticks: W1_XT },
    { min: 0.999513, max: 1.000501, ticks: W1_YT, labels: W1_YT, fmt: fixed(4), name: "Relative flux", gap: 31 });
  series.push(errbars(aW, w1x.map((x, i) => [x, 1 + (w1[i] - W1_ERR) * 1e-6, 1 + (w1[i] + W1_ERR) * 1e-6]), "#111", 1.2, 2));
  series.push(scatter(aW, w1x.map((x, i) => [x, 1 + w1[i] * 1e-6]), "circle", 5.5, "#000", 3));
  const ppmLine = (xs: number[], ys: number[]) => xs.map((x, i) => [x, 1 + ys[i] * 1e-6]);
  series.push(line(aW, ppmLine(W1_CYAN_X, W1_CYAN_Y), "#5cc9c0", 2.2, 4));
  series.push(line(aW, ppmLine(W1_GREEN_X, W1_GREEN_Y), "#5aa85a", 2.2, 4));
  series.push(line(aW, ppmLine(W1_FLAT_X, W1_BLUE_Y), "#4d5cff", 2, 4));
  series.push(line(aW, ppmLine(W1_FLAT_X, W1_PURPLE_Y), "#b050e0", 2, 4));
  const plaW: any = line(aW, ppmLine(W1_PLA_X, W1_PLA_Y), "#a3303e", 3.5, 6);
  plaW.markLine = {
    silent: true, animation: false, label: { show: false }, symbol: ["none", "arrow"], symbolSize: 9,
    data: W1_ARROW_PH.map((p, i) => [
      { coord: [p, W1_ARROW_Y[0]], lineStyle: { color: W1_ARROW_COL[i], width: 3, type: "solid" }, itemStyle: { color: W1_ARROW_COL[i] } },
      { coord: [p, W1_ARROW_Y[1]] },
    ]),
  };
  series.push(plaW);
  const aWoc = panel([53, 711, 1212, 48], { min: 0, max: 1, ticks: W1_XT, labels: W1_XT, fmt: fixed(1), name: "Orbital phase", gap: 13, fs: 9 },
    { min: -600, max: 600, ticks: W1_OCT, labels: W1_OCT, fmt: intf, name: "O-C [ppm]", gap: 29, fs: 8 });
  const w1Models = [W1_CYAN_Y[0], W1_GREEN_Y[0], W1_BLUE_Y[0], W1_PURPLE_Y[0], W1_PLA_Y[1]];
  MODEL_OC.forEach((c, m) => {
    const r = w1.map((v) => v - w1Models[m]);
    series.push(errbars(aWoc, w1x.map((x, i) => [x, r[i] - W1_ERR, r[i] + W1_ERR]), c, 1, 2 + m));
    const sc: any = scatter(aWoc, w1x.map((x, i) => [x, r[i]]), "circle", OC_SIZE[m] - 1, c, 3 + m);
    if (m === 4) sc.markLine = zeroLine("#000", "solid", 1.5);
    series.push(sc);
  });
  title("CoRoT-W1", 659, 533);

  // ======== CoRoT-W1 transit ========
  lcPanel([53, 807, 354, 171], [53, 978, 354, 49], W1S_X, W1S_PPM, W1S_ERR, W1S_BASE, W1S_DEPTH, 1500, OC_T1500, 27, 33);
  title("CoRoT-W1", 230, 800);

  // ======== SED ========
  const aS = panel([482, 807, 354, 171], { type: "log", min: 3365, max: 56300, ticks: SED_XT },
    { type: "log", min: 2.08e-17, max: 1.53e-14, ticks: SED_YT, labels: SED_YL, fmt: pow10, fs: 10, name: "Flux [ergs cm\u207B\u00B2 s\u207B\u00B9 \u00C5\u207B\u00B9]", gap: 28 });
  series.push(line(aS, zip(SED_HOT_WL, SED_HOT_F), "#5fd6d4", 3, 2, { ls: { opacity: 0.8 } }));
  series.push(line(aS, zip(SED_HOT_WL, SED_HOT_F), "#a468e6", 1.4, 3, { ls: { opacity: 0.9 } }));
  series.push(line(aS, zip(SED_PLA_WL, SED_PLA_F), "#f0506a", 3, 3, { ls: { opacity: 0.7 } }));
  series.push(line(aS, zip(SED_PLA_WL, SED_PLA_F), "#8b3a3a", 1.4, 4));
  const modelFlux = (oc: number[]) => SED_WL.map((w, i) => [w, SED_FLUX[i] * Math.pow(10, 0.4 * oc[i])]);
  series.push(scatter(aS, modelFlux(SED_OC_CYAN), "circle", 9, "#3ccccc", 5, "rgba(0,0,0,0)", 1.4));
  series.push(scatter(aS, modelFlux(SED_OC_MAG), "circle", 9, "#a040e0", 6, "rgba(0,0,0,0)", 1.4));
  series.push(scatter(aS, modelFlux(SED_OC_RED), "circle", 9, "#ff1a1a", 7, "rgba(0,0,0,0)", 1.6));
  series.push(scatter(aS, zip(SED_WL, SED_FLUX), "circle", 7, "#000", 8, "#000", 1));
  const aSoc = panel([482, 978, 354, 48], { type: "log", min: 3365, max: 56300, ticks: SED_XT, labels: SED_XL, fmt: pow10, fs: 10, name: "Wavelength [\u00C5]", gap: 15, margin: 4 },
    { min: -0.74, max: 0.4, ticks: SED_OCT, labels: SED_OCT, fmt: fixed(1), name: "O-C [mag]", gap: 29, fs: 8.5 });
  const sedOC: [number[], string][] = [[SED_OC_CYAN, "#3cc8c8"], [SED_OC_MAG, "#e070e0"], [SED_OC_BLUE, "#3a3aff"], [SED_OC_RED, "#ff2020"], [SED_OC_BROWN, "#8b3a3a"]];
  sedOC.forEach(([oc, c], m) => {
    series.push(errbars(aSoc, SED_WL.map((w, i) => [w, oc[i] - SED_OC_ERR[i], oc[i] + SED_OC_ERR[i]]), c, 1, 2 + m));
    const sc: any = scatter(aSoc, zip(SED_WL, oc), "circle", 6.5, c, 3 + m, "rgba(0,0,0,0)", 1.2);
    if (m === 4) sc.markLine = zeroLine("#555", "dotted", 1);
    series.push(sc);
  });

  // ======== PDF ========
  const aP = panel([912, 807, 354, 219],
    {
      min: -5, max: 20, ticks: PDF_XT, labels: PDF_XT, fmt: intf, fs: 11.5, margin: 6,
      name: "{n|log  p(D|H}PLA{n|, I)/p(D, H}{FP}{n|, I)}", gap: 16,
      nameStyle: { fontFamily: SERIF, fontSize: 8.5, rich: { n: { fontFamily: SERIF, fontSize: 12.5, color: "#111", padding: [0, 0, 8, 0] } } },
    },
    { min: 0, max: 1.041, ticks: PDF_YT, labels: PDF_YT, fmt: fixed(1), fs: 11.5, margin: 8, name: "PDF", gap: 20 });
  series.push({
    type: "line", xAxisIndex: aP.xi, yAxisIndex: aP.yi, data: [], silent: true, z: 1,
    markArea: {
      silent: true, animation: false, label: { show: false },
      data: PDF_BANDS.map((b, i) => [{ xAxis: b[0], itemStyle: { color: PDF_BAND_COL[i], opacity: 1 } }, { xAxis: b[1] }]),
    },
  });
  const pdfLine = (name: string, xs: number[], ys: number[], color: string) => ({
    ...line(aP, zip(xs, ys), color, 1.6, 3, { ls: { opacity: 0.85 } }), name, itemStyle: { color },
  });
  series.push(pdfLine("BEB", BEB_X, BEB_Y, "#55ad55"));
  series.push(pdfLine("BTP", BTP_X, BTP_Y, "#4a4cf5"));
  series.push(pdfLine("PiB", PIB_X, PIB_Y, "#dd5cdd"));
  series.push(pdfLine("TRIPLE", TRI_X, TRI_Y, "#5ad6d6"));

  return {
    animation: false,
    backgroundColor: "#fff",
    textStyle: { fontFamily: SANS },
    grid, xAxis, yAxis, series, graphic,
    legend: {
      data: ["BEB", "BTP", "PiB", "TRIPLE"],
      orient: "vertical", left: 1187, top: 811, itemWidth: 19, itemHeight: 2, itemGap: 3,
      icon: "rect",
      selectedMode: false,
      itemStyle: { opacity: 0.75 },
      textStyle: { fontFamily: SANS, fontSize: 11.5, color: "#111", padding: [0, 0, 0, 5], lineHeight: 13 },
    },
  };
}

export default function App() {
  const ref = useRef<HTMLDivElement>(null);
  useEffect(() => {
    if (!ref.current) return;
    const chart = echarts.init(ref.current, null, { renderer: "svg" });
    chart.setOption(buildOption() as any);
    return () => chart.dispose();
  }, []);
  return <div ref={ref} style={{ position: "absolute", left: 0, top: 0, width: 1275, height: 1059, background: "#fff" }} />;
}
